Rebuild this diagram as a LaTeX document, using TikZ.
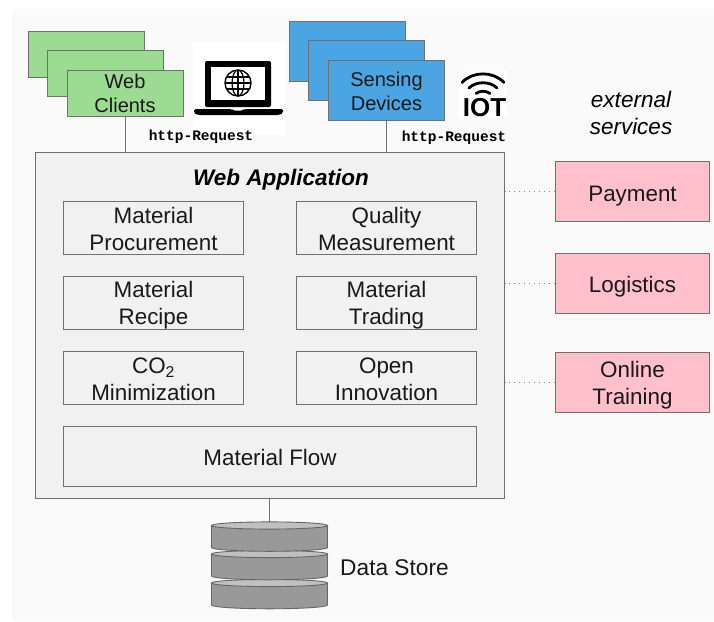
\documentclass[tikz,border=0pt]{standalone}
\usepackage{fontspec}
\setmainfont{Liberation Sans}
\setmonofont{Liberation Mono}
\definecolor{pagebg}{HTML}{FAFAFA}
\definecolor{edgegray}{HTML}{707070}
\definecolor{panel}{HTML}{F1F1F1}
\definecolor{clientgreen}{HTML}{9CDC92}
\definecolor{sensorblue}{HTML}{4AA5E2}
\definecolor{servicepink}{HTML}{FFC0CB}
\definecolor{dbside}{HTML}{999999}
\definecolor{dbtop}{HTML}{C2C0BC}
\newcommand{\twolines}[2]{\rule{0pt}{21pt}#1\\#2\rule[-2pt]{0pt}{2pt}}
\tikzset{
  x=1pt,y=-1pt,
  box/.style={draw=edgegray,line width=0.9pt,minimum width=#1,inner sep=0pt,align=center,font=\fontsize{22.4}{27}\selectfont,text=black!90},
  box/.default=180pt,
  modulebox/.style={box=180pt,fill=panel,minimum height=53pt},
  clientbox/.style={box=116pt,fill=clientgreen,minimum height=46pt,font=\fontsize{20}{24}\selectfont},
  sensorbox/.style={box=116pt,fill=sensorblue,minimum height=60pt,font=\fontsize{20}{24}\selectfont},
  servicebox/.style={box=154pt,fill=servicepink,minimum height=60pt},
  oneline/.style={text height=21pt,text depth=2pt},
  link/.style={draw=edgegray,line width=0.9pt},
  dotlink/.style={draw=edgegray!80,line width=0.9pt,dash pattern=on 1pt off 4pt},
  reqlabel/.style={font=\ttfamily\bfseries\fontsize{14.5}{16}\selectfont,inner sep=0pt},
  plainlabel/.style={inner sep=0pt,align=center},
  dbdisc/.style={draw=black!60,line width=0.9pt,fill=dbside},
  dbcap/.style={draw=black!60,line width=0.9pt,fill=dbtop},
}
\newcommand{\dbdisc}[1]{%
  \path[dbdisc] (211.5,#1) -- (211.5,#1+22) arc[x radius=58,y radius=3.8,start angle=180,end angle=0] -- (327.5,#1) -- cycle;
  \path[dbcap] (269.5,#1) ellipse[x radius=58,y radius=3.6];
}
\begin{document}
\begin{tikzpicture}
\useasboundingbox (0,0) rectangle (714,621);
\fill[white] (0,0) rectangle (714,621);
\fill[pagebg] (12,9) rectangle (714,621);
% clients
\node[clientbox] (c1) at (86,54) {};
\node[clientbox] (c2) at (105.5,73) {};
\node[clientbox] (c3) at (125,93) {\rule{0pt}{18pt}Web\\Clients\rule[-4pt]{0pt}{4pt}};
% laptop
\fill[white] (193,42) rectangle (285,135);
\fill[black,rounded corners=2pt] (205,61) rectangle (271,107);
\fill[white] (211,67) rectangle (265,100);
\draw[black,line width=1.4pt] (238,83) circle (13);
\draw[black,line width=1.2pt] (238,83) ellipse (6 and 13);
\draw[black,line width=1.2pt] (225,83) -- (251,83) (227,77) -- (249,77) (227,89) -- (249,89) (238,70) -- (238,96);
\fill[black,rounded corners=1.5pt] (194,109) -- (232,109) -- (233,110.5) -- (243,110.5) -- (244,109) -- (283,109) -- (283,113) -- (279,115) -- (198,115) -- (194,113) -- cycle;
% sensors
\node[sensorbox] (s1) at (347.5,51) {};
\node[sensorbox] (s2) at (366.5,70.5) {};
\node[sensorbox] (s3) at (386.5,90.5) {\rule{0pt}{20pt}Sensing\\Devices\rule[-4pt]{0pt}{4pt}};
% iot
\fill[white] (459,71) rectangle (507,118);
\draw[black,line width=2.8pt,line cap=round] (462,82.5) .. controls (473,71) and (493,71) .. (504,82.5);
\draw[black,line width=2.8pt,line cap=round] (469,88) .. controls (476,81) and (490,81) .. (497,88);
\draw[black,line width=2.8pt,line cap=round] (476,93.5) .. controls (480,90.5) and (486,90.5) .. (490,93.5);
\node[font=\fontsize{26}{26}\selectfont\bfseries,inner sep=0pt,anchor=base] (iot) at (484.5,116) {IOT};
% http labels
\node[reqlabel] (r1) at (201,137) {http-Request};
\node[reqlabel] (r2) at (454,138) {http-Request};
% web app
\node[draw=edgegray,line width=0.9pt,fill=panel,minimum width=469.5pt,minimum height=346pt,inner sep=0pt] (app) at (269.8,325) {};
\node[plainlabel,font=\fontsize{22.5}{26}\selectfont\bfseries\itshape,anchor=base] (apptitle) at (281,185.5) {Web Application};
\draw[link] (c3.south) -- (c3.south |- app.north);
\draw[link] (s3.south) -- (s3.south |- app.north);
% modules
\node[modulebox] (m1) at (153.5,227.5) {\twolines{Material}{Procurement}};
\node[modulebox] (m2) at (386.5,227.5) {\twolines{Quality}{Measurement}};
\node[modulebox] (m3) at (153.5,302.5) {\twolines{Material}{Recipe}};
\node[modulebox] (m4) at (386.5,302.5) {\twolines{Material}{Trading}};
\node[modulebox] (m5) at (153.5,377.5) {\twolines{CO\textsubscript{2}}{Minimization}};
\node[modulebox] (m6) at (386.5,377.5) {\twolines{Open}{Innovation}};
\node[box=413pt,fill=panel,minimum height=60pt,oneline] (m7) at (270,456) {Material Flow};
% services
\node[plainlabel,font=\fontsize{22.5}{27}\selectfont\itshape] (ext) at (631,112.5) {external\\services};
\node[servicebox,oneline] (p1) at (632.5,191.5) {Payment};
\node[servicebox,oneline] (p2) at (632.5,283) {Logistics};
\node[servicebox] (p3) at (632.5,382.5) {\rule{0pt}{22pt}Online\\Training\rule[-1pt]{0pt}{1pt}};
\draw[dotlink] (p1.west) -- (p1.west -| app.east);
\draw[dotlink] (p2.west) -- (p2.west -| app.east);
\draw[dotlink] (p3.west) -- (p3.west -| app.east);
% store
\coordinate (dbtopc) at (269.5,522);
\dbdisc{583}
\dbdisc{554}
\dbdisc{525.5}
\draw[link] (app.south -| dbtopc) -- (dbtopc);
\node[plainlabel,font=\fontsize{22.7}{26}\selectfont,text=black!90] (dslabel) at (394.5,568) {Data Store};
\end{tikzpicture}
\end{document}
